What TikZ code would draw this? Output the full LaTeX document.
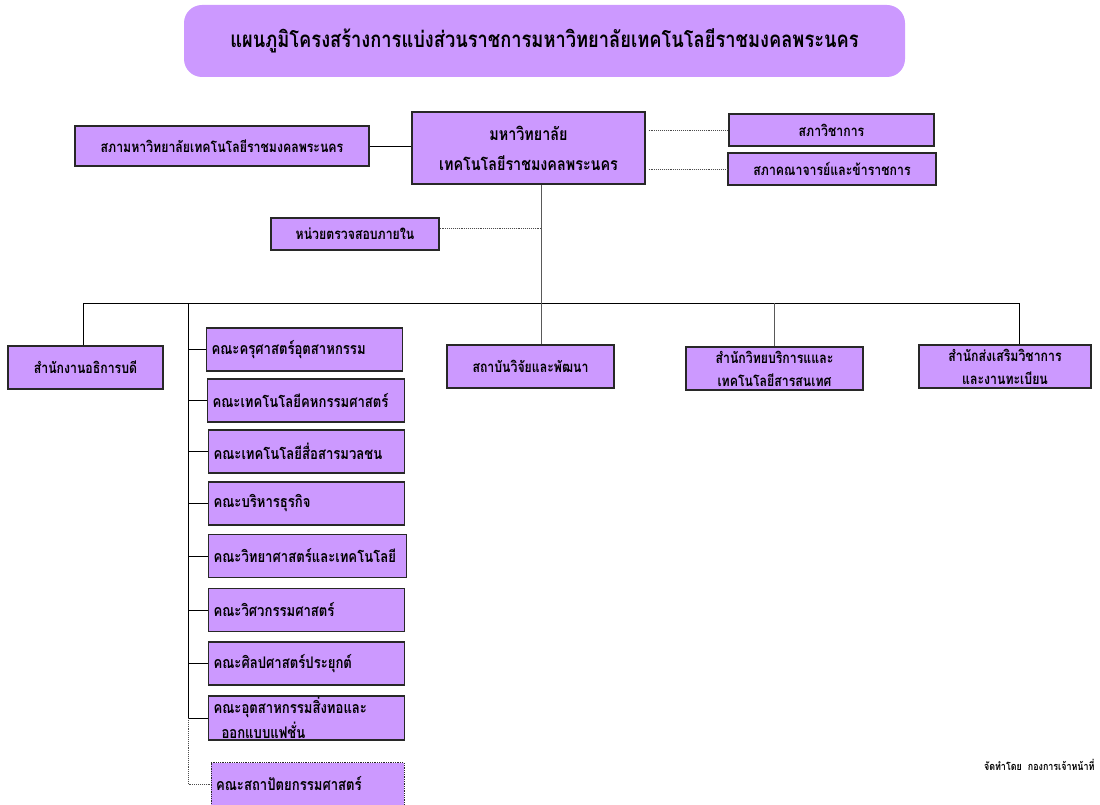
\documentclass[tikz,border=0pt]{standalone}
\usepackage{fontspec}
\setmainfont[Script=Thai, FakeStretch=0.82]{Loma}
\usetikzlibrary{positioning}
\definecolor{boxfill}{RGB}{204,153,255}
\definecolor{boxline}{RGB}{40,40,40}
\begin{document}
\begin{tikzpicture}[x=1pt,y=-1pt,
  box/.style={draw=boxline, line width=1.3pt, fill=boxfill, inner sep=0pt, font=\bfseries\fontsize{15}{18}\selectfont},
  fac/.style={box, minimum height=43pt, align=left, text width=#1, inner xsep=5pt, font=\bfseries\fontsize{16}{19}\selectfont},
  fac/.default=186pt,
  link/.style={line width=0.9pt},
  dotlink/.style={line width=0.9pt, densely dotted, draw=black!70}]
\useasboundingbox (0,0) rectangle (1100,805);
\node[draw=none, fill=boxfill, rounded corners=18pt, minimum width=721pt, minimum height=72pt, font=\bfseries\fontsize{22.3}{26}\selectfont] (P_t) at (544.5,41) {แผนภูมิโครงสร้างการแบ่งส่วนราชการมหาวิทยาลัยเทคโนโลยีราชมงคลพระนคร};
% top level
\node[box, minimum width=233pt, minimum height=72pt, align=center, font=\bfseries\fontsize{17.5}{30}\selectfont] (P_0_0) at (528.5,148) {มหาวิทยาลัย\\เทคโนโลยีราชมงคลพระนคร};
\node[box, minimum width=294pt, minimum height=40pt] (P_0_1) at (222,146) {สภามหาวิทยาลัยเทคโนโลยีราชมงคลพระนคร};
\draw[link] (P_0_1) -- (P_0_1 -| P_0_0.west);
\node[box, minimum width=205pt, minimum height=32pt] (P_0_2) at (831.5,130) {สภาวิชาการ};
\draw[dotlink] ([xshift=3pt]P_0_2 -| P_0_0.east) -- (P_0_2.west);
\node[box, minimum width=208pt, minimum height=32pt] (P_0_3) at (832,169) {สภาคณาจารย์และข้าราชการ};
\draw[dotlink] ([xshift=3pt]P_0_3 -| P_0_0.east) -- (P_0_3.west);
\coordinate (T) at (541,303);
\draw[link, draw=black!65] (P_0_0.south -| T) -- (T);
\node[box, minimum width=168pt, minimum height=32pt] (P_1_0) at (355,234) {หน่วยตรวจสอบภายใน};
\draw[dotlink] ([yshift=6pt]P_1_0.east) -- ([yshift=6pt]P_1_0.east -| T);
% second level
\node[box, minimum width=155pt, minimum height=43pt] (P_2_0) at (85.5,367.5) {สำนักงานอธิการบดี};
\node[box, minimum width=167pt, minimum height=43pt] (P_2_1) at (530.5,366.5) {สถาบันวิจัยและพัฒนา};
\node[box, minimum width=177pt, minimum height=43pt, align=center, font=\bfseries\fontsize{15}{23}\selectfont] (P_2_2) at (774.5,368.5) {สำนักวิทยบริการแและ\\เทคโนโลยีสารสนเทศ};
\node[box, minimum width=172pt, minimum height=43pt, align=center, font=\bfseries\fontsize{15}{23}\selectfont] (P_2_3) at (1005,366.5) {สำนักส่งเสริมวิชาการ\\และงานทะเบียน};
\draw[link] ([xshift=-2.5pt]P_2_0.north) |- (T);
\draw[link] (T) -| ([xshift=14pt]P_2_3.north);
\draw[link, draw=black!65] (T) -- (P_2_1.north -| T);
\draw[link, draw=black!65] (P_2_2.north |- T) -- (P_2_2.north);
% faculties
\coordinate (C) at (188,303);
\node[fac] (F1) at (304.5,349.5) {คณะครุศาสตร์อุตสาหกรรม};
\node[fac=187pt] (F2) at (306,400.5) {คณะเทคโนโลยีคหกรรมศาสตร์};
\node[fac] (F3) at (306.5,451.5) {คณะเทคโนโลยีสื่อสารมวลชน};
\node[fac] (F4) at (306.5,503.5) {คณะบริหารธุรกิจ};
\node[fac=188pt] (F5) at (307.5,556) {คณะวิทยาศาสตร์และเทคโนโลยี};
\node[fac] (F6) at (306.5,610) {คณะวิศวกรรมศาสตร์};
\node[fac] (F7) at (306.5,663.5) {คณะศิลปศาสตร์ประยุกต์};
\node[fac, minimum height=44pt, font=\bfseries\fontsize{16}{25}\selectfont] (F8) at (306.5,718) {คณะอุตสาหกรรมสิ่งทอและ\\\hspace*{8pt}ออกแบบแฟชั่น};
\node[fac=183pt, densely dotted, line width=1pt] (F9) at (307.5,784) {คณะสถาปัตยกรรมศาสตร์};
\draw[link] (C) -- (T);
\foreach \i in {1,...,8}
  \draw[link] (C) |- (F\i.west);
\draw[dotlink] (C |- F8.west) |- (F9.west);
\node[anchor=east, font=\bfseries\fontsize{10.9}{12}\selectfont] (P_note) at (1098,765) {จัดทำโดย\ \ กองการเจ้าหน้าที่};
\end{tikzpicture}
\end{document}
